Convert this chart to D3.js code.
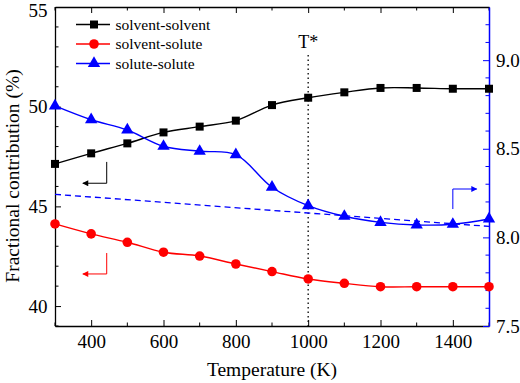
<!DOCTYPE html>
<html>
<head>
<meta charset="utf-8">
<script src="https://cdn.jsdelivr.net/npm/d3@7"></script>
<style>
  body { margin: 0; background: #fff; }
  svg text { font-family: "Liberation Serif", "Times New Roman", serif; }
</style>
</head>
<body>
<div id="chart"></div>
<script>
// temperatures (K)
const temps = [300, 400, 500, 600, 700, 800, 900, 1000, 1100, 1200, 1300, 1400, 1500];
// left axis (%)
const solventSolvent = [47.13, 47.66, 48.16, 48.71, 49.0, 49.3, 50.08, 50.45, 50.72, 50.94, 50.94, 50.9, 50.9];
const solventSolute = [44.12, 43.62, 43.2, 42.7, 42.51, 42.11, 41.73, 41.36, 41.14, 40.97, 40.97, 40.97, 40.97];
// right axis
const soluteSolute = [8.742, 8.664, 8.606, 8.514, 8.486, 8.467, 8.283, 8.179, 8.119, 8.085, 8.07, 8.074, 8.104];
const fitT = [300, 1500];
const fitValues = [8.243, 8.062];

const xTicks = [400, 600, 800, 1000, 1200, 1400];
const xMinor = [300, 500, 700, 900, 1100, 1300, 1500];
const leftTicks = [40, 45, 50, 55];
const rightTicks = [7.5, 8.0, 8.5, 9.0];
const tStar = 1000;

const W = 520, H = 383;
const margin = { left: 55, right: 31, top: 7, bottom: 57 };
const blue = "#0000ff", red = "#ff0000";
const serif = "'Liberation Serif', 'Times New Roman', serif";

const svg = d3.select("#chart").append("svg")
  .attr("width", W).attr("height", H);

const x = d3.scaleLinear().domain([300, 1500]).range([margin.left, W - margin.right]);
const yL = d3.scaleLinear().domain([39, 55]).range([H - margin.bottom, margin.top]);
const yR = d3.scaleLinear().domain([7.5, 9.3]).range([H - margin.bottom, margin.top]);

const x0 = margin.left, x1 = W - margin.right, y0 = H - margin.bottom, y1 = margin.top;

// bottom axis
const bottomAxis = svg.append("g").attr("transform", `translate(0,${y0})`)
  .call(d3.axisBottom(x).tickValues(xTicks).tickSizeInner(-6).tickSizeOuter(0).tickPadding(9)
    .tickFormat(d3.format("d")));
bottomAxis.append("g").selectAll("line").data(xMinor).join("line")
  .attr("x1", d => x(d)).attr("x2", d => x(d)).attr("y1", 0).attr("y2", -3.5).attr("stroke", "#000");

// top axis
const topAxis = svg.append("g").attr("transform", `translate(0,${y1})`)
  .call(d3.axisTop(x).tickValues(xTicks).tickSizeInner(-6).tickSizeOuter(0).tickFormat(""));
topAxis.append("g").selectAll("line").data(xMinor).join("line")
  .attr("x1", d => x(d)).attr("x2", d => x(d)).attr("y1", 0).attr("y2", 3.5).attr("stroke", "#000");

// left axis
const leftAxis = svg.append("g").attr("transform", `translate(${x0},0)`)
  .call(d3.axisLeft(yL).tickValues(leftTicks).tickSizeInner(-6).tickSizeOuter(0).tickPadding(7.5));
leftAxis.append("g").selectAll("line").data(d3.range(39, 55, 1).filter(v => v % 5 !== 0)).join("line")
  .attr("x1", 0).attr("x2", 3.5).attr("y1", d => yL(d)).attr("y2", d => yL(d)).attr("stroke", "#000");

// right axis (blue)
const rightAxis = svg.append("g").attr("transform", `translate(${x1},0)`)
  .call(d3.axisRight(yR).tickValues(rightTicks).tickSizeInner(-6).tickSizeOuter(0).tickPadding(7)
    .tickFormat(d3.format(".1f")));
rightAxis.append("g").selectAll("line")
  .data(d3.range(76, 93).map(v => v / 10).filter(v => Math.round(v * 10) % 5 !== 0)).join("line")
  .attr("x1", 0).attr("x2", -3.5).attr("y1", d => yR(d)).attr("y2", d => yR(d));

svg.selectAll(".tick text").attr("font-family", serif).style("font-size", "19px").attr("fill", "#000");
// keep the top label inside the picture
leftAxis.selectAll(".tick text").filter(d => d === 55).attr("dy", "0.5em");
svg.selectAll(".domain").attr("stroke-width", 1.3);
rightAxis.select(".domain").attr("stroke", blue).attr("stroke-width", 1.5);
rightAxis.selectAll("line").attr("stroke", blue);

// T* dotted line
svg.append("line")
  .attr("x1", x(tStar)).attr("x2", x(tStar)).attr("y1", 55).attr("y2", y0)
  .attr("stroke", "#000").attr("stroke-width", 1.3).attr("stroke-dasharray", "1.5,3");
svg.append("text").attr("x", x(tStar)).attr("y", 48).attr("text-anchor", "middle")
  .attr("font-family", serif).style("font-size", "18px").text("T*");

// dashed fit line (right axis)
svg.append("path")
  .datum(fitT.map((t, i) => [t, fitValues[i]]))
  .attr("d", d3.line().x(d => x(d[0])).y(d => yR(d[1])))
  .attr("fill", "none").attr("stroke", blue).attr("stroke-width", 1.3).attr("stroke-dasharray", "6,4");

const curve = d3.curveCatmullRom.alpha(0.5);
function drawSeries(values, yScale, color) {
  svg.append("path")
    .datum(values.map((v, i) => [temps[i], v]))
    .attr("d", d3.line().curve(curve).x(d => x(d[0])).y(d => yScale(d[1])))
    .attr("fill", "none").attr("stroke", color).attr("stroke-width", 1.4);
}
drawSeries(solventSolvent, yL, "#000");
drawSeries(solventSolute, yL, red);
drawSeries(soluteSolute, yR, blue);

const sq = d3.symbol().type(d3.symbolSquare).size(64);
const ci = d3.symbol().type(d3.symbolCircle).size(72);
const tr = d3.symbol().type(d3.symbolTriangle).size(66);

function drawMarkers(values, yScale, sym, color) {
  svg.append("g").selectAll("path").data(values).join("path")
    .attr("d", sym)
    .attr("transform", (d, i) => `translate(${x(temps[i])},${yScale(d)})`)
    .attr("fill", color);
}
drawMarkers(solventSolvent, yL, sq, "#000");
drawMarkers(solventSolute, yL, ci, red);
drawMarkers(soluteSolute, yR, tr, blue);

// axis direction arrows
const defs = svg.append("defs");
[["arrK", "#000"], ["arrR", red], ["arrB", blue]].forEach(([id, c]) => {
  defs.append("marker").attr("id", id).attr("viewBox", "0 0 10 10")
    .attr("refX", 9).attr("refY", 5).attr("markerWidth", 8).attr("markerHeight", 6)
    .attr("markerUnits", "userSpaceOnUse").attr("orient", "auto")
    .append("path").attr("d", "M0,0L10,5L0,10Z").attr("fill", c);
});
function elbow(tx, ta, yFrom, yTo, yScale, color, id) {
  svg.append("path")
    .attr("d", `M${x(tx)},${yScale(yFrom)}L${x(tx)},${yScale(yTo)}L${x(ta)},${yScale(yTo)}`)
    .attr("fill", "none").attr("stroke", color).attr("stroke-width", 1)
    .attr("marker-end", `url(#${id})`);
}
elbow(443, 377, 47.23, 46.16, yL, "#000", "arrK");
elbow(443, 377, 42.66, 41.61, yL, red, "arrR");
elbow(1400, 1466, 8.16, 8.273, yR, blue, "arrB");

// legend
const legendItems = [
  { label: "solvent-solvent", color: "#000", sym: sq },
  { label: "solvent-solute", color: red, sym: ci },
  { label: "solute-solute", color: blue, sym: tr }
];
const lg = svg.append("g");
legendItems.forEach((d, i) => {
  const yy = 24.5 + i * 19.5;
  lg.append("line").attr("x1", 76).attr("x2", 110).attr("y1", yy).attr("y2", yy)
    .attr("stroke", d.color).attr("stroke-width", 1.4);
  lg.append("path").attr("d", d.sym).attr("transform", `translate(94,${yy})`).attr("fill", d.color);
  lg.append("text").attr("x", 115.5).attr("y", yy + 5).attr("font-family", serif)
    .style("font-size", "15.5px").text(d.label);
});

// axis titles
svg.append("text").attr("x", (x0 + x1) / 2).attr("y", 376).attr("text-anchor", "middle")
  .attr("font-family", serif).style("font-size", "19.5px").text("Temperature (K)");
svg.append("text").attr("transform", `translate(19,176) rotate(-90)`).attr("text-anchor", "middle")
  .attr("font-family", serif).style("font-size", "19.5px").text("Fractional contribution (%)");
</script>
</body>
</html>
